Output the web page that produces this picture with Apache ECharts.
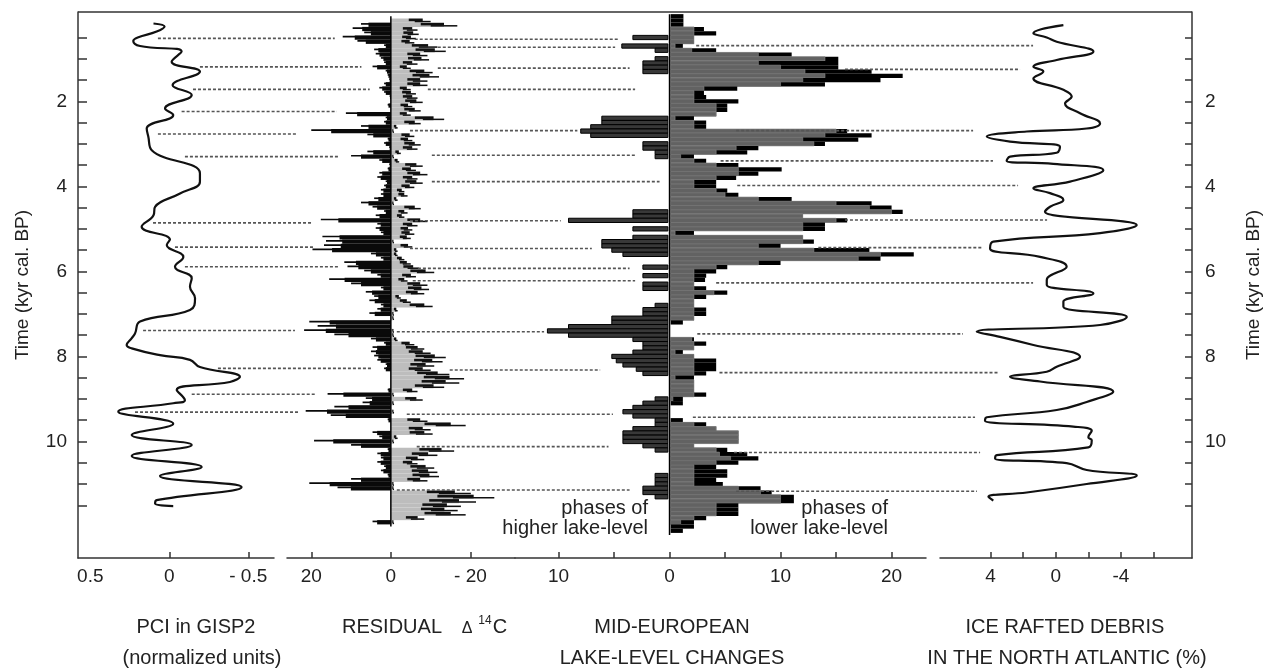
<!DOCTYPE html>
<html><head><meta charset="utf-8">
<script src="https://cdn.jsdelivr.net/npm/echarts@6/dist/echarts.min.js"></script>
<style>html,body{margin:0;padding:0;background:#fff}#c{width:1272px;height:669px}</style>
</head><body><div id="c"></div>
<script>
// ---------- DATA ----------
const pciTime = [0.17,0.24,0.36,0.5,0.58,0.7,0.83,1.07,1.3,1.62,1.85,2.17,2.32,2.64,2.83,3.15,3.69,3.89,4.17,4.48,4.68,4.95,5.25,5.38,5.66,5.89,6.16,6.36,6.63,6.91,7.18,7.46,7.58,7.73,7.81,7.97,8.08,8.25,8.48,8.6,8.79,9.03,9.1,9.3,9.58,9.85,10.08,10.34,10.6,10.81,11.07,11.38,11.46,11.52];
const pciValue = [0.10,0.03,0.08,0.2,0.228,0.185,-0.078,-0.015,-0.194,-0.021,-0.142,0.027,-0.025,0.143,0.133,0.111,-0.194,-0.194,-0.068,0.09,0.10,0.175,-0.004,0.016,-0.089,-0.036,-0.142,-0.131,-0.163,-0.131,0.185,0.217,0.24,0.27,0.238,0.059,-0.131,-0.194,-0.447,-0.384,-0.047,-0.099,-0.025,0.323,-0.025,0.238,-0.142,0.238,-0.205,0.059,-0.458,0.08,0.09,-0.025];

const irdTime = [0.21,0.40,0.50,0.60,0.83,1.03,1.19,1.30,1.46,1.73,1.89,2.05,2.28,2.52,2.64,2.71,2.83,2.95,3.07,3.21,3.30,3.40,3.47,3.62,3.89,4.05,4.16,4.32,4.48,4.60,4.91,5.10,5.30,5.46,5.66,5.89,6.20,6.32,6.52,6.71,6.83,7.07,7.26,7.42,7.54,7.73,8.01,8.24,8.36,8.48,8.59,8.83,9.07,9.26,9.43,9.51,9.65,9.75,9.90,9.97,10.14,10.32,10.40,10.51,10.67,10.80,11.00,11.20,11.30,11.39];
const irdValue = [-0.47,1.37,0.55,-0.06,-2.31,-0.06,1.37,0.76,1.37,-0.47,-0.98,-0.57,-1.49,-2.72,-1.90,1.78,4.23,2.80,-0.26,-0.06,2.80,3.01,0.15,-2.92,-0.88,1.37,0.35,-0.47,0.35,0.66,-4.97,-2.72,3.83,4.03,0.96,-0.67,0.55,0.55,-2.31,-0.47,-0.47,-4.36,-2.72,4.85,3.42,1.37,-1.49,-0.06,0.55,2.80,0.96,-3.53,-1.90,-0.06,4.23,4.34,-1.08,-2.21,-2.0,-2.21,-2.0,3.62,3.72,-0.67,-1.90,-4.97,-1.90,1.78,4.13,3.83];

const d14cTime = [0.1,0.2,0.3,0.4,0.5,0.6,0.7,0.8,0.9,1.0,1.1,1.2,1.3,1.4,1.5,1.6,1.7,1.8,1.9,2.0,2.1,2.2,2.3,2.4,2.5,2.6,2.7,2.8,2.9,3.0,3.1,3.2,3.3,3.4,3.5,3.6,3.7,3.8,3.9,4.0,4.1,4.2,4.3,4.4,4.5,4.6,4.7,4.8,4.9,5.0,5.1,5.2,5.3,5.4,5.5,5.6,5.7,5.8,5.9,6.0,6.1,6.2,6.3,6.4,6.5,6.6,6.7,6.8,6.9,7.0,7.1,7.2,7.3,7.4,7.5,7.6,7.7,7.8,7.9,8.0,8.1,8.2,8.3,8.4,8.5,8.6,8.7,8.8,8.9,9.0,9.1,9.2,9.3,9.4,9.5,9.6,9.7,9.8,9.9,10.0,10.1,10.2,10.3,10.4,10.5,10.6,10.7,10.8,10.9,11.0,11.1,11.2,11.3,11.4,11.5,11.6,11.7,11.8,11.9];
const d14cPositive = [0,7.5,9.6,6.7,12.1,8.4,1.7,4.2,3.8,2.5,1.7,4.6,1.3,0.8,0.4,1.7,2.9,1.7,0.3,0,0.8,0,11.3,1.3,1.7,7.5,20,5.9,0.8,1.7,0.4,5.9,10,2.9,0.4,0.8,2.9,3.4,1.3,1.7,2.5,2.5,4.2,7.5,4.6,1.7,3.8,17.6,3.4,3.8,2.5,17.2,16.3,16.8,19.7,5,2.5,11.7,10.9,6.7,3.4,15.5,10,2.5,6.3,4.2,5.4,2.5,3.4,5.4,0,20.5,18.4,21.8,14.2,5,1.7,4.6,5,4.2,3.4,1.3,1.7,0,0,0,0,0.8,15.9,6.3,7.1,14.2,21.4,15.1,0.8,0,0,4.6,2.9,19.3,10,0.8,3.4,2.5,3.4,1.7,2.5,0.8,10,20.5,13.4,0,0,0,0,0,0,0,4.6];
const d14cNegative = [10,16.7,6.7,7,6.3,5.9,11.7,13.8,9.2,9.6,6.7,5,10.5,12.1,9.2,9.2,5,6.3,6.7,8,5.4,7.5,5,13.4,7.5,1.7,0.8,5.9,5.4,7.5,6.7,2.5,0.8,2.1,8,6.3,9.2,6.7,8,5.9,3.4,4.2,1.7,0.8,7.5,4.2,3.4,9.2,6.7,5.4,5.9,5,0.8,5.4,1.7,1.7,3.4,5,7,10.9,6.3,4.2,9.2,9.6,8.4,2.5,5,10.5,1.7,0.8,0.8,0,0,0.8,0.8,1.7,5.9,8.4,10,13.8,13,10.9,10,14.7,18.4,17.2,13.4,6.7,0.8,8,0.8,0,0.8,0,9.2,18.8,10,10.5,1.7,0.8,0,15.9,11.7,8.4,6.7,10.9,11.7,12.1,9.2,0.8,0.8,20.1,26,21.4,17.6,16.8,18.8,8.4,0.8];

const lakeTime = [0.0,0.1,0.2,0.3,0.4,0.5,0.6,0.7,0.8,0.9,1.0,1.1,1.2,1.3,1.4,1.5,1.6,1.7,1.8,1.9,2.0,2.1,2.2,2.3,2.4,2.5,2.6,2.7,2.8,2.9,3.0,3.1,3.2,3.3,3.4,3.5,3.6,3.7,3.8,3.9,4.0,4.1,4.2,4.3,4.4,4.5,4.6,4.7,4.8,4.9,5.0,5.1,5.2,5.3,5.4,5.5,5.6,5.7,5.8,5.9,6.0,6.1,6.2,6.3,6.4,6.5,6.6,6.7,6.8,6.9,7.0,7.1,7.2,7.3,7.4,7.5,7.6,7.7,7.8,7.9,8.0,8.1,8.2,8.3,8.4,8.5,8.6,8.7,8.8,8.9,9.0,9.1,9.2,9.3,9.4,9.5,9.6,9.7,9.8,9.9,10.0,10.1,10.2,10.3,10.4,10.5,10.6,10.7,10.8,10.9,11.0,11.1,11.2,11.3,11.4,11.5,11.6,11.7,11.8,11.9,12.0,12.1];
const lakeHigher = [0,0,0,0,0,3.3,0,4.3,1.3,0, 1.3,2.4,2.4,2.4,0,0,0,0,0,0, 0,0,0,0,6.1,6.1,7.1,8.0,7.1,0, 2.4,2.4,1.3,1.3,0,0,0,0,0,0, 0,0,0,0,0,0,3.3,3.3,9.1,0, 3.3,0,3.3,6.1,6.1,5.2,4.2,0,0,2.4, 0,2.4,0,2.4,2.4,0,0,0,1.3,2.4, 2.4,5.2,5.2,9.1,11,9.1,3.3,2.4,2.4,3.3, 5.2,4.8,4.2,3.0,2.4,0,0,0,0,0, 1.3,2.4,3.3,4.2,3.3,1.3,1.3,3.3,4.2,4.2, 4.2,2.4,1.3,0,0,0,0,0,1.3,1.3, 1.3,2.4,2.4,1.3,0,0,0,0,0,0, 0,0];
const lakeLowerOuter = [1.25,1.25,1.25,3.1,4.2,2.2,2.2,1.2,4.2,11, 15.2,15.2,15.2,18.2,21,19,14,6.1,3.1,3.3, 6.2,5.2,5.2,4.2,2.2,3.3,3.3,16,18.2,17, 14,8,7,2.2,3.3,6.2,10.1,8,6,4.2, 4.2,5.2,6.2,11,18.2,20,21,12,16,14, 14,2.2,12,13,10,18,22,19,10,5.2, 4.2,3.3,3.2,2.2,3.3,5.2,3.3,2.2,2.2,3.3, 3.3,2.2,1.2,0,0,0,2.2,3.3,2.2,1.2, 2.2,4.2,4.2,4.2,3.3,2.2,2.2,2.2,2.2,3.3, 1.2,1.2,0,0,0,1.2,3.3,4.2,6.2,6.2, 6.2,2.2,5.2,7,8,6.2,4.2,5.2,5.2,4.2, 4.8,8.2,9.2,11.2,11.2,6.2,6.2,6.2,3.3,2.2, 2.2,1.2];
const lakeLowerInner = [0,0,0,2.2,2.2,2.2,2.2,0.5,2,8, 14,8,10,12.2,14,12,10,3.1,2.2,2.2, 2.2,4.2,4.2,4.2,0.5,2.2,2.2,15,14,12, 13,6,4.2,1,2.2,4.2,6.2,6.2,4.2,2.2, 2.2,4.2,5,8,15,18,20,12,15,12, 12,0.5,12,12,8,13,19,17,8,4.2, 2.2,2.2,2.2,2.2,2.2,4,2.2,2.2,2.2,2.2, 2.2,2.2,0,0,0,0,2,2.2,2.2,0.5, 2.2,2.2,2.2,2.2,2.2,0.5,2.2,2.2,2.2,2.2, 0.3,0,0,0,0,0,2.2,4.2,6.2,6.2, 6.2,2.2,4.2,4.5,5.5,4.2,2.2,2.2,2.2,2.2, 2.2,6.2,8.2,10,10,4.2,4.2,4.2,2.2,1, 0,0];

// dashed connector lines: time, start (left panel units), end (right panel units)
const pciLinkTime = [0.52,1.19,1.72,2.24,2.77,3.30,4.86,5.43,5.89,7.39,8.28,8.89,9.31];
const pciLinkFrom = [0.072,-0.194,-0.15,-0.078,0.072,-0.099,0.103,-0.036,-0.099,0.166,-0.308,-0.142,0.217];
const pciLinkTo = [14.1,7.4,5.3,13.6,23.4,12.8,19.9,19.1,12.8,24.1,4.5,19.1,22.9];
const d14cLinkTime = [0.54,0.73,1.22,1.72,2.69,3.27,3.89,4.81,5.46,5.93,6.22,7.42,8.32,9.36,10.12,11.14];
const d14cLinkFrom = [-6.0,-11.8,-11.8,-9.3,-4.8,-10.3,-10.3,-4.8,-4.8,-6.8,-5.5,-1.5,-14.8,-4.0,-6.5,-1.5];
const d14cLinkTo = [-4.6,-4.9,-3.6,-3.1,-8.3,-3.1,-0.9,-9.8,-7.0,-3.6,-3.1,-11.3,-6.25,-5.1,-5.5,-3.6];
const lakeLinkTime = [0.69,1.25,2.69,3.40,3.98,4.79,5.44,6.27,7.47,8.38,9.43,10.26,11.17];
const lakeLinkFrom = [2.4,15.8,6.0,4.6,6.1,15.8,13.4,4.2,2.5,4.5,2.1,5.8,6.0];
const lakeLinkTo = [1.39,2.19,5.07,3.85,2.31,0.53,4.52,1.39,5.69,3.54,4.95,4.64,4.83];

// axes ticks / labels
const timeTicks = [0.5,1,1.5,2,2.5,3,3.5,4,4.5,5,5.5,6,6.5,7,7.5,8,8.5,9,9.5,10,10.5,11,11.5];
const timeLabels = [2,4,6,8,10];
const pciTicks = [0,-0.5];
const pciLabels = [0.5,0,-0.5];
const d14cTicks = [20,0,-20];
const lakeTicks = [-10,-5,0,5,10,15,20];
const lakeLabels = [-10,0,10,20];
const irdTicks = [4,2,0,-2,-4,-6];
const irdLabels = [4,0,-4];

// ---------- CHART ----------
const FONT = '"Liberation Sans", Arial, Helvetica, sans-serif';
const chart = echarts.init(document.getElementById('c'), null, {renderer: 'canvas'});
const TOP = 12, H = 546, TMIN = -0.1, TMAX = 12.74;
const grids = [
  {left: 78, top: TOP, width: 196, height: H},
  {left: 287, top: TOP, width: 228, height: H},
  {left: 515, top: TOP, width: 411, height: H},
  {left: 940, top: TOP, width: 252, height: H}
];
const axisLine = {show: true, onZero: false, lineStyle: {color: '#333', width: 1.5}};
const labelStyle = {color: '#222', fontSize: 19, fontFamily: FONT};
function xAxis(i, min, max, inverse, ticks, labels, fmt) {
  return {type: 'value', gridIndex: i, min, max, inverse, position: 'bottom',
    axisLine, splitLine: {show: false},
    axisTick: {show: true, inside: true, length: 6, customValues: ticks, lineStyle: {color: '#333', width: 1.5}},
    axisLabel: Object.assign({show: true, margin: 9, customValues: labels, formatter: fmt}, labelStyle)};
}
function yAxis(i, show, pos) {
  return {type: 'value', gridIndex: i, min: TMIN, max: TMAX, inverse: true, position: pos, show,
    axisLine: {show, onZero: false, lineStyle: {color: '#333', width: 1.5}}, splitLine: {show: false},
    axisTick: {show, inside: true, length: pos === 'left' ? 9 : 7, customValues: timeTicks, lineStyle: {color: '#333', width: 1.5}},
    axisLabel: Object.assign({show, margin: pos === 'left' ? 11 : 13, customValues: timeLabels}, labelStyle),
    name: show ? 'Time (kyr cal. BP)' : '', nameLocation: 'middle', nameRotate: 90,
    nameGap: pos === 'left' ? 46 : 52, nameTextStyle: {color: '#222', fontSize: 19, fontFamily: FONT}};
}
const signFmt = v => v < 0 ? '- ' + (-v) : String(v);

function rectBetween(api, x0, x1, t, half, shift) {
  const s = shift || 0;
  const p0 = api.coord([x0, t - half + s]);
  const p1 = api.coord([x1, t + half + s]);
  return {x: Math.min(p0[0], p1[0]), y: Math.min(p0[1], p1[1]),
          width: Math.abs(p1[0] - p0[0]), height: Math.abs(p1[1] - p0[1])};
}

function renderD14c(params, api) {
  const t = api.value(0), pos = api.value(1), neg = api.value(2);
  const children = [];
  if (neg > 0) {
    children.push({type: 'rect', shape: rectBetween(api, 0, -neg * 0.8, t, 0.05), style: {fill: '#bdbdbd'}});
    children.push({type: 'rect', shape: rectBetween(api, -neg * 0.45, -neg * 0.8, t, 0.03, -0.015), style: {fill: '#111'}});
    children.push({type: 'rect', shape: rectBetween(api, -neg * 0.6, -neg, t, 0.018, 0.025), style: {fill: '#111'}});
  }
  if (pos > 0) {
    children.push({type: 'rect', shape: rectBetween(api, 0, pos * 0.75, t, 0.05), style: {fill: '#0a0a0a'}});
    children.push({type: 'rect', shape: rectBetween(api, 0, pos, t, 0.02, -0.02), style: {fill: '#0a0a0a'}});
  }
  return {type: 'group', children};
}

function renderLake(params, api) {
  const t = api.value(0), hi = api.value(1), lo = api.value(2), lg = api.value(3);
  const children = [];
  if (hi > 0) {
    children.push({type: 'rect', shape: rectBetween(api, -0.15, -hi, t, 0.05), style: {fill: '#383838', stroke: '#000', lineWidth: 1}});
  }
  if (lo > 0) {
    children.push({type: 'rect', shape: rectBetween(api, 0.1, lo, t, 0.05), style: {fill: '#000'}});
  }
  if (lg > 0) {
    children.push({type: 'rect', shape: rectBetween(api, 0.1, lg, t, 0.05), style: {fill: '#626262', stroke: '#8c8c8c', lineWidth: 0.6}});
  }
  return {type: 'group', children};
}

const option = {
  animation: false,
  backgroundColor: '#fff',
  grid: grids,
  xAxis: [
    xAxis(0, -0.663, 0.578, true, pciTicks, pciLabels, signFmt),
    xAxis(1, -31.2, 26.1, true, d14cTicks, d14cTicks, signFmt),
    xAxis(2, -13.92, 23.1, false, lakeTicks, lakeLabels, v => String(Math.abs(v))),
    xAxis(3, -8.36, 7.10, true, irdTicks, irdLabels, v => v < 0 ? '-' + (-v) : String(v))
  ],
  yAxis: [yAxis(0, true, 'left'), yAxis(1, false, 'left'), yAxis(2, false, 'left'), yAxis(3, true, 'right')],
  series: [
    {type: 'line', xAxisIndex: 0, yAxisIndex: 0, smooth: 0.45, symbol: 'none',
     lineStyle: {color: '#111', width: 2.2}, data: pciTime.map((t, i) => [pciValue[i], t]), z: 3},
    {type: 'line', xAxisIndex: 3, yAxisIndex: 3, smooth: 0.45, symbol: 'none',
     lineStyle: {color: '#111', width: 2.2}, data: irdTime.map((t, i) => [irdValue[i], t]), z: 3},
    {type: 'custom', xAxisIndex: 1, yAxisIndex: 1, renderItem: renderD14c, encode: {x: 1, y: 0},
     data: d14cTime.map((t, i) => [t, d14cPositive[i], d14cNegative[i]]), z: 2},
    {type: 'line', xAxisIndex: 1, yAxisIndex: 1, symbol: 'none', lineStyle: {color: '#000', width: 1.5},
     data: [[0, 0.0], [0, 12.0]], z: 4},
    {type: 'custom', xAxisIndex: 2, yAxisIndex: 2, renderItem: renderLake, encode: {x: 2, y: 0},
     data: lakeTime.map((t, i) => [t, lakeHigher[i], lakeLowerOuter[i], lakeLowerInner[i]]), z: 2},
    {type: 'line', xAxisIndex: 2, yAxisIndex: 2, symbol: 'none', lineStyle: {color: '#000', width: 1.5},
     data: [[0, -0.05], [0, 12.2]], z: 4}
  ]
};
chart.setOption(option);

// ---------- overlays ----------
function links(times, from, to, gA, gB) {
  return times.map((t, i) => {
    const a = chart.convertToPixel({gridIndex: gA}, [from[i], t]);
    const b = chart.convertToPixel({gridIndex: gB}, [to[i], t]);
    return {type: 'line', shape: {x1: a[0], y1: a[1], x2: b[0], y2: a[1]},
            style: {stroke: '#555', lineWidth: 1.6, lineDash: [3, 2]}, z: 10};
  });
}
function txt(text, x, y, size, align) {
  return {type: 'text', x, y, z: 20,
    style: {text, fill: '#222', font: size + 'px ' + FONT, textAlign: align || 'center', textVerticalAlign: 'middle'}};
}
const elements = [].concat(
  links(pciLinkTime, pciLinkFrom, pciLinkTo, 0, 1),
  links(d14cLinkTime, d14cLinkFrom, d14cLinkTo, 1, 2),
  links(lakeLinkTime, lakeLinkFrom, lakeLinkTo, 2, 3),
  [
    {type: 'line', shape: {x1: 78, y1: TOP, x2: 1192, y2: TOP}, style: {stroke: '#333', lineWidth: 1.5}, z: 10},
    txt('PCI in GISP2', 196, 627, 20),
    txt('(normalized units)', 202, 658, 20),
    txt('RESIDUAL', 392, 627, 20),
    txt('Δ', 467, 629, 16),
    txt('14', 485, 621, 12),
    txt('C', 500, 627, 20),
    txt('MID-EUROPEAN', 672, 627, 20),
    txt('LAKE-LEVEL CHANGES', 672, 658, 20),
    txt('ICE RAFTED DEBRIS', 1065, 627, 20),
    txt('IN THE NORTH ATLANTIC (%)', 1067, 658, 20),
    txt('phases of', 648, 508, 20, 'right'),
    txt('higher lake-level', 648, 528, 20, 'right'),
    txt('phases of', 888, 508, 20, 'right'),
    txt('lower lake-level', 888, 528, 20, 'right')
  ]
);
chart.setOption({graphic: {elements}});
</script>
</body></html>
